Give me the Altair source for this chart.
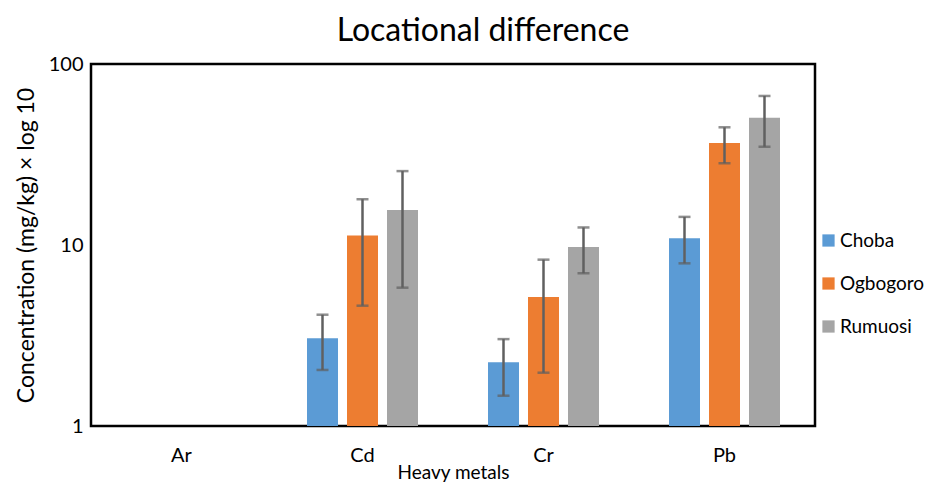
import altair as alt
import pandas as pd

metals = ["Ar", "Cd", "Cr", "Pb"]
sites = ["Choba", "Ogbogoro", "Rumuosi"]
colors = ["#5B9BD5", "#ED7D31", "#A5A5A5"]

# values per site for Cd, Cr, Pb (Ar has no bars)
bar_metals = ["Cd", "Cr", "Pb"]
choba = [3.05, 2.25, 10.9]
ogbogoro = [11.3, 5.16, 36.6]
rumuosi = [15.6, 9.75, 50.5]
choba_lo = [2.04, 1.47, 7.92]
choba_hi = [4.12, 3.02, 14.3]
ogbogoro_lo = [4.62, 1.97, 28.3]
ogbogoro_hi = [17.9, 8.3, 44.7]
rumuosi_lo = [5.81, 6.98, 34.9]
rumuosi_hi = [25.6, 12.5, 66.6]

rows = []
for site, vals, lo, hi in [
    ("Choba", choba, choba_lo, choba_hi),
    ("Ogbogoro", ogbogoro, ogbogoro_lo, ogbogoro_hi),
    ("Rumuosi", rumuosi, rumuosi_lo, rumuosi_hi),
]:
    for m, v, l, h in zip(bar_metals, vals, lo, hi):
        rows.append({"metal": m, "site": site, "value": v, "lo": l, "hi": h})
df = pd.DataFrame(rows)

FONT = "Lato"

x_scale = alt.Scale(domain=metals, paddingInner=0, paddingOuter=0)
x_enc = alt.X("metal:N", scale=x_scale,
              axis=alt.Axis(title="Heavy metals", labelAngle=0, domain=False, ticks=False,
                            labelFontSize=20, labelPadding=19, titleFontSize=19,
                            titlePadding=-2, titleFontWeight="normal", labelColor="#000",
                            titleColor="#000", labelFont=FONT, titleFont=FONT))
xoff = alt.XOffset("site:N", scale=alt.Scale(domain=sites, paddingInner=0.225, paddingOuter=0.875))
y_scale = alt.Scale(type="log", domain=[1, 100])

bars = alt.Chart(df).mark_bar().encode(
    x=x_enc,
    xOffset=xoff,
    y=alt.Y("value:Q", scale=y_scale,
            axis=alt.Axis(title="Concentration (mg/kg) × log 10", values=[1, 10, 100],
                          format="d", domain=False, ticks=False, grid=False,
                          labelFontSize=20, labelPadding=8, titleFontSize=23,
                          titleFontWeight="normal", titlePadding=10, labelColor="#000",
                          titleColor="#000", labelFont=FONT, titleFont=FONT)),
    y2=alt.datum(1),
    color=alt.Color("site:N", scale=alt.Scale(domain=sites, range=colors),
                    legend=alt.Legend(title=None, orient="none", legendX=728, legendY=167,
                                      symbolType="square", symbolSize=150, symbolStrokeWidth=0,
                                      labelFontSize=19, labelFont=FONT, labelColor="#000",
                                      rowPadding=23, labelOffset=2)),
)

err = alt.Chart(df).mark_rule(color="#606060", strokeWidth=2.5).encode(
    x=alt.X("metal:N", scale=x_scale),
    xOffset=xoff,
    y=alt.Y("lo:Q", scale=y_scale),
    y2="hi:Q",
)
cap_hi = alt.Chart(df).mark_tick(color="#606060", thickness=2.5, size=12).encode(
    x=alt.X("metal:N", scale=x_scale),
    xOffset=xoff,
    y=alt.Y("hi:Q", scale=y_scale),
)
cap_lo = alt.Chart(df).mark_tick(color="#606060", thickness=2.5, size=12).encode(
    x=alt.X("metal:N", scale=x_scale),
    xOffset=xoff,
    y=alt.Y("lo:Q", scale=y_scale),
)

chart = alt.layer(bars, err, cap_hi, cap_lo).properties(
    width=724, height=362,
    title=alt.TitleParams("Locational difference", fontSize=32, font=FONT,
                          fontWeight="normal", color="#000", anchor="middle", dx=30, offset=6),
    autosize=alt.AutoSizeParams(type="none"),
    padding={"left": 83, "top": 56, "right": 115, "bottom": 57},
).configure(background="white").configure_view(stroke="#000", strokeWidth=2.5)

chart.save("out.html", embed_options={"renderer": "svg", "actions": False})
